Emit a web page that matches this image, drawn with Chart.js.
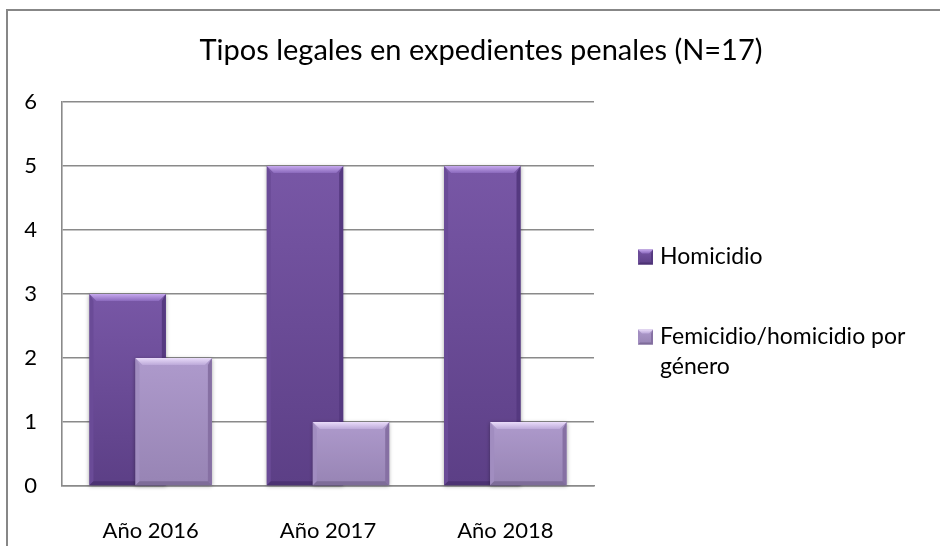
<!DOCTYPE html>
<html>
<head>
<meta charset="utf-8">
<script src="https://cdn.jsdelivr.net/npm/chart.js@4"></script>
<style>
  html, body { margin: 0; padding: 0; background: #fff; overflow: hidden; }
  #wrap { position: relative; width: 940px; height: 546px; }
  #c { position: absolute; left: 0; top: 0; }
  #frame { position: absolute; left: 6px; top: 9px; width: 2000px; height: 2000px;
           border-top: 2px solid #878787; border-left: 2px solid #878787; pointer-events: none; }
</style>
</head>
<body>
<div id="wrap">
  <canvas id="c" width="940" height="546"></canvas>
  <div id="frame"></div>
</div>
<script>
// ---- data ----
const categories = ['Año 2016', 'Año 2017', 'Año 2018'];
const homicidio = [3, 5, 5];
const femicidio = [2, 1, 1];
const seriesNames = ['Homicidio', 'Femicidio/homicidio por género'];
const legendLines = [['Homicidio'], ['Femicidio/homicidio por', 'género']];
const yTicks = [0, 1, 2, 3, 4, 5, 6];
const titleText = 'Tipos legales en expedientes penales (N=17)';

// ---- styling ----
const FONT = 'Lato';
const GRID = '#8a8a8a';
const palettes = [
  { base: '#7050a0', face: ['#7857a6', '#5c3f86'], top: ['#c6a8ee', '#8a69bc'],
    left: '#6a4b97', right: '#553980', bottom: '#4c3273' },
  { base: '#a892c6', face: ['#ae9acc', '#9784b4'], top: ['#eadcfa', '#bca9d9'],
    left: '#a18dc0', right: '#8670a3', bottom: '#7e6c99' }
];

function poly(ctx, pts, fill) {
  ctx.beginPath();
  ctx.moveTo(pts[0][0], pts[0][1]);
  for (let i = 1; i < pts.length; i++) ctx.lineTo(pts[i][0], pts[i][1]);
  ctx.closePath();
  ctx.fillStyle = fill;
  ctx.fill();
}

function drawBevel(ctx, x0, x1, top, bottom, pal, b, s, shadow) {
  ctx.save();
  let g = ctx.createLinearGradient(0, top, 0, bottom);
  g.addColorStop(0, pal.face[0]);
  g.addColorStop(1, pal.face[1]);
  if (shadow) {
    ctx.shadowColor = 'rgba(0,0,0,0.35)';
    ctx.shadowBlur = 4;
    ctx.shadowOffsetX = 0;
    ctx.shadowOffsetY = 1;
  }
  ctx.fillStyle = g;
  ctx.fillRect(x0, top, x1 - x0, bottom - top);
  ctx.shadowColor = 'rgba(0,0,0,0)';
  ctx.shadowBlur = 0;
  poly(ctx, [[x0, top], [x0 + s, top + b], [x0 + s, bottom - s], [x0, bottom]], pal.left);
  poly(ctx, [[x1, top], [x1 - s, top + b], [x1 - s, bottom - s], [x1, bottom]], pal.right);
  poly(ctx, [[x0, bottom], [x0 + s, bottom - s], [x1 - s, bottom - s], [x1, bottom]], pal.bottom);
  g = ctx.createLinearGradient(0, top, 0, top + b);
  g.addColorStop(0, pal.top[0]);
  g.addColorStop(1, pal.top[1]);
  poly(ctx, [[x0, top], [x1, top], [x1 - b, top + b], [x0 + b, top + b]], g);
  ctx.restore();
}

// draw datasets in index order (light bars over dark), with bevel overlay
const bevelBars = {
  id: 'bevelBars',
  beforeDatasetDraw() { return false; },
  afterDatasetsDraw(chart) {
    const ctx = chart.ctx;
    chart.data.datasets.forEach((ds, di) => {
      const meta = chart.getDatasetMeta(di);
      meta.data.forEach(el => {
        const p = el.getProps(['x', 'y', 'base', 'width'], true);
        drawBevel(ctx, p.x - p.width / 2, p.x + p.width / 2, p.y, p.base, palettes[di], 7, 4, true);
      });
    });
  }
};

// legend drawn beside the plot area
const sideLegend = {
  id: 'sideLegend',
  afterDraw(chart) {
    const ctx = chart.ctx;
    const a = chart.chartArea;
    const boxX = a.right + 44, box = 15;
    const firstY = a.top + 155, itemGap = 80, lineH = 30;
    ctx.save();
    ctx.font = '23px ' + FONT;
    ctx.textBaseline = 'middle';
    ctx.textAlign = 'left';
    let y = firstY;
    legendLines.forEach((lines, i) => {
      drawBevel(ctx, boxX, boxX + box, y - box / 2, y + box / 2, palettes[i], 4, 2, false);
      ctx.fillStyle = '#000';
      lines.forEach((t, k) => ctx.fillText(t, boxX + box + 7, y + k * lineH));
      y += itemGap;
    });
    ctx.restore();
  }
};

new Chart(document.getElementById('c'), {
  type: 'bar',
  data: {
    labels: categories,
    datasets: [
      { label: seriesNames[0], data: homicidio, backgroundColor: palettes[0].base,
        xAxisID: 'x', yAxisID: 'y' },
      { label: seriesNames[1], data: femicidio, backgroundColor: palettes[1].base,
        xAxisID: 'x', yAxisID: 'y' }
    ]
  },
  options: {
    responsive: false,
    animation: false,
    devicePixelRatio: 1,
    categoryPercentage: 0.519,
    barPercentage: 1.66,
    layout: { padding: { left: 22, right: 0, top: 0, bottom: 0 } },
    plugins: {
      legend: { display: false },
      tooltip: { enabled: false },
      title: {
        display: true,
        text: titleText,
        color: '#000',
        font: { family: FONT, size: 29, weight: 'normal' },
        padding: { top: 33.6, bottom: 33.6 }
      }
    },
    scales: {
      x: {
        type: 'category',
        grid: { display: false },
        border: { display: true, color: GRID, width: 1.6 },
        ticks: { color: '#000', font: { family: FONT, size: 22 }, padding: 24 },
        afterFit(s) { s.height = 60; }
      },
      y: {
        type: 'linear',
        position: 'left',
        min: 0, max: 6,
        afterBuildTicks(s) { s.ticks = yTicks.map(v => ({ value: v })); },
        grid: { color: GRID, lineWidth: 1.6, drawTicks: false },
        border: { display: true, color: GRID, width: 1.6 },
        ticks: { color: '#000', font: { family: FONT, size: 22 }, padding: 25 },
        afterFit(s) { s.width = 40; }
      },
      legendSpace: {
        type: 'linear',
        position: 'right',
        display: true,
        grid: { display: false },
        border: { display: false },
        ticks: { display: false },
        afterFit(s) { s.width = 346; }
      }
    }
  },
  plugins: [bevelBars, sideLegend]
});
</script>
</body>
</html>
